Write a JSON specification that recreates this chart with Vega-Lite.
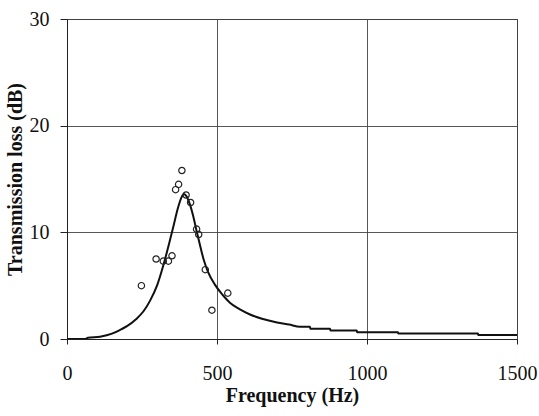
{
  "$schema": "https://vega.github.io/schema/vega-lite/v6.json",
  "width": 450,
  "height": 320,
  "autosize": {"type": "none"},
  "padding": {"left": 67, "top": 19, "right": 22, "bottom": 77},
  "background": "white",
  "config": {
    "view": {"stroke": "#333", "strokeWidth": 1},
    "font": "Liberation Serif",
    "axis": {
      "labelFont": "Liberation Serif",
      "titleFont": "Liberation Serif",
      "labelFontSize": 20,
      "titleFontSize": 20,
      "titleFontWeight": "bold",
      "labelColor": "#111",
      "titleColor": "#111",
      "domainColor": "#222",
      "tickColor": "#222",
      "gridColor": "#444",
      "gridWidth": 0.9,
      "gridOpacity": 1
    }
  },
  "datasets": {
    "model": [
      {"f": 0, "tl": 0}, {"f": 60, "tl": 0}, {"f": 70, "tl": 0.12}, {"f": 110, "tl": 0.22},
      {"f": 150, "tl": 0.5}, {"f": 180, "tl": 0.9}, {"f": 200, "tl": 1.2}, {"f": 230, "tl": 1.85},
      {"f": 255, "tl": 2.6}, {"f": 277, "tl": 3.6}, {"f": 300, "tl": 5.0}, {"f": 320, "tl": 6.8},
      {"f": 340, "tl": 8.9}, {"f": 355, "tl": 10.6}, {"f": 370, "tl": 12.3}, {"f": 382, "tl": 13.3},
      {"f": 390, "tl": 13.6}, {"f": 398, "tl": 13.4}, {"f": 410, "tl": 12.6}, {"f": 420, "tl": 11.6},
      {"f": 433, "tl": 10.0}, {"f": 445, "tl": 8.6}, {"f": 455, "tl": 7.5}, {"f": 470, "tl": 6.3},
      {"f": 493, "tl": 5.1}, {"f": 520, "tl": 4.1}, {"f": 543, "tl": 3.4}, {"f": 575, "tl": 2.8},
      {"f": 610, "tl": 2.3}, {"f": 650, "tl": 1.9}, {"f": 700, "tl": 1.55}, {"f": 740, "tl": 1.35},
      {"f": 777, "tl": 1.15}, {"f": 810, "tl": 1.15}, {"f": 811, "tl": 0.96}, {"f": 877, "tl": 0.96},
      {"f": 878, "tl": 0.79}, {"f": 966, "tl": 0.79}, {"f": 967, "tl": 0.63}, {"f": 1103, "tl": 0.63},
      {"f": 1104, "tl": 0.52}, {"f": 1370, "tl": 0.52}, {"f": 1371, "tl": 0.37}, {"f": 1503, "tl": 0.37}
    ],
    "measured": [
      {"f": 383, "tl": 15.8}, {"f": 372, "tl": 14.5}, {"f": 362, "tl": 14.0}, {"f": 397, "tl": 13.5},
      {"f": 412, "tl": 12.8}, {"f": 432, "tl": 10.3}, {"f": 439, "tl": 9.8}, {"f": 297, "tl": 7.5},
      {"f": 321, "tl": 7.3}, {"f": 338, "tl": 7.3}, {"f": 350, "tl": 7.8}, {"f": 248, "tl": 5.0},
      {"f": 461, "tl": 6.5}, {"f": 536, "tl": 4.3}, {"f": 483, "tl": 2.7}
    ]
  },
  "layer": [
    {
      "data": {"name": "model"},
      "mark": {"type": "line", "color": "#111", "strokeWidth": 2, "interpolate": "monotone", "clip": true},
      "encoding": {
        "x": {
          "field": "f", "type": "quantitative",
          "scale": {"domain": [0, 1500], "nice": false},
          "axis": {
            "title": "Frequency (Hz)", "values": [0, 500, 1000, 1500], "format": "d",
            "grid": true, "tickSize": 5, "labelPadding": 19, "titlePadding": 2,
            "labelFlush": false
          }
        },
        "y": {
          "field": "tl", "type": "quantitative",
          "scale": {"domain": [0, 30], "nice": false},
          "axis": {
            "title": "Transmission loss (dB)", "values": [0, 10, 20, 30],
            "grid": true, "tickSize": 7, "labelPadding": 11, "titlePadding": 4,
            "labelFlush": false
          }
        }
      }
    },
    {
      "data": {"name": "measured"},
      "mark": {"type": "point", "shape": "circle", "filled": false, "color": "#222", "opacity": 1, "strokeWidth": 1.2, "size": 40},
      "encoding": {
        "x": {"field": "f", "type": "quantitative"},
        "y": {"field": "tl", "type": "quantitative"}
      }
    }
  ]
}
